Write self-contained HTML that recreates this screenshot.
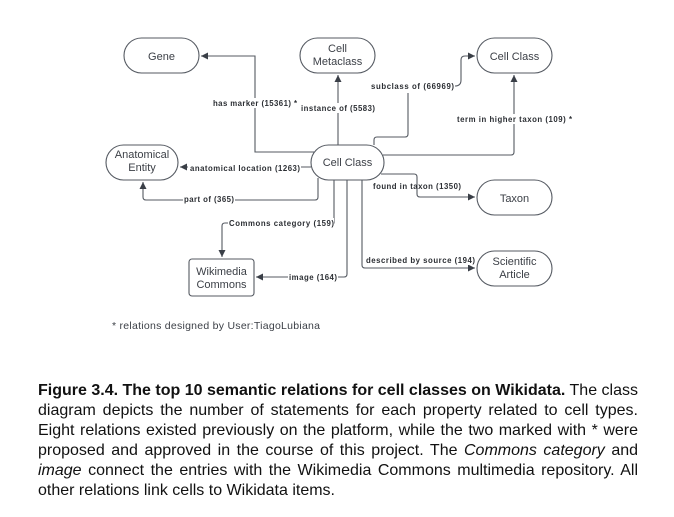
<!DOCTYPE html>
<html><head><meta charset="utf-8"><style>
html,body{margin:0;padding:0;background:#fff;width:674px;height:517px;overflow:hidden}
svg{position:absolute;left:0;top:0}
.cap{position:absolute;left:38px;top:381px;width:600px;font-family:"Liberation Sans",sans-serif;font-size:16px;line-height:20px;color:#111;text-align:justify;text-align-last:left}
</style></head><body>
<svg width="674" height="370" viewBox="0 0 674 370" font-family="Liberation Sans, sans-serif">
<defs><marker id="a" markerWidth="8" markerHeight="8" refX="7" refY="4" orient="auto" markerUnits="userSpaceOnUse"><path d="M0,0.5 L7,4 L0,7.5z" fill="#3a3f47"/></marker></defs>
<g fill="none" stroke="#555a62" stroke-width="1.1">
<rect x="124" y="38" width="75" height="35" rx="17.5" fill="#fff"/>
<rect x="300" y="38" width="75" height="35" rx="17.5" fill="#fff"/>
<rect x="477" y="38" width="75" height="35" rx="17.5" fill="#fff"/>
<rect x="106" y="145" width="72" height="35" rx="17.5" fill="#fff"/>
<rect x="311" y="145" width="73" height="35" rx="17.5" fill="#fff"/>
<rect x="477" y="180" width="75" height="35" rx="17.5" fill="#fff"/>
<rect x="477" y="251" width="75" height="35" rx="17.5" fill="#fff"/>
<rect x="189" y="259" width="65" height="37" rx="3" fill="#fff"/>
</g>
<g fill="none" stroke="#555a62" stroke-width="1.1">
<path d="M314,152 H255 V56 H201" marker-end="url(#a)"/>
<path d="M338,145 V75" marker-end="url(#a)"/>
<path d="M374,145 V140 Q374,137 377,137 H405 Q408,137 408,134 V93 M455,86 Q461,86 461,80 V60 Q461,56 465,56 H475" marker-end="url(#a)"/>
<path d="M383,155 H511 Q514,155 514,152 V75" marker-end="url(#a)"/>
<path d="M381,174 H414 Q417,174 417,177 V194 Q417,197 420,197 H475" marker-end="url(#a)"/>
<path d="M311,167 H180" marker-end="url(#a)"/>
<path d="M318,178 V197 Q318,200 315,200 H146 Q143,200 143,197 V182" marker-end="url(#a)"/>
<path d="M334,180 V223 H225 Q222,223 222,226 V257" marker-end="url(#a)"/>
<path d="M347,180 V274 Q347,277 344,277 H256" marker-end="url(#a)"/>
<path d="M362,180 V265 Q362,268 365,268 H475" marker-end="url(#a)"/>
</g>
<g fill="#3b3f46" font-size="11" text-anchor="middle">
<text x="161.5" y="60">Gene</text>
<text x="337.5" y="52">Cell</text><text x="337.5" y="65">Metaclass</text>
<text x="514.5" y="60">Cell Class</text>
<text x="142" y="158">Anatomical</text><text x="142" y="171">Entity</text>
<text x="347.5" y="166">Cell Class</text>
<text x="514.5" y="202">Taxon</text>
<text x="514.5" y="265">Scientific</text><text x="514.5" y="278">Article</text>
<text x="221.5" y="275">Wikimedia</text><text x="221.5" y="288">Commons</text>
</g>
<g fill="#2b2e33" font-size="7.8" font-weight="bold">
<rect x="211" y="98" width="88" height="10" fill="#fff"/>
<text x="213" y="106" textLength="84">has marker (15361) *</text>
<rect x="300" y="103" width="76" height="10" fill="#fff"/>
<text x="301" y="111" textLength="74">instance of (5583)</text>
<text x="371" y="89" textLength="83">subclass of (66969)</text>
<rect x="456" y="114" width="118" height="10" fill="#fff"/>
<text x="457" y="122" textLength="115">term in higher taxon (109) *</text>
<text x="373" y="189" textLength="88">found in taxon (1350)</text>
<rect x="188" y="163" width="113" height="10" fill="#fff"/>
<text x="190" y="171" textLength="110">anatomical location (1263)</text>
<rect x="183" y="195" width="52" height="10" fill="#fff"/>
<text x="184" y="202" textLength="50">part of (365)</text>
<rect x="228" y="218" width="106" height="10" fill="#fff"/>
<text x="229" y="226" textLength="105">Commons category (159)</text>
<rect x="288" y="272" width="50" height="10" fill="#fff"/>
<text x="289" y="280" textLength="48">image (164)</text>
<rect x="365" y="255" width="111" height="10" fill="#fff"/>
<text x="366" y="263" textLength="109">described by source (194)</text>
</g>
<text x="112" y="329" font-size="10.5" fill="#3b3f46" textLength="208">* relations designed by User:TiagoLubiana</text>
</svg>
<div class="cap"><b>Figure 3.4. The top 10 semantic relations for cell classes on Wikidata.</b> The class diagram depicts the number of statements for each property related to cell types. Eight relations existed previously on the platform, while the two marked with * were proposed and approved in the course of this project. The <i>Commons category</i> and <i>image</i> connect the entries with the Wikimedia Commons multimedia repository. All other relations link cells to Wikidata items.</div>
</body></html>
